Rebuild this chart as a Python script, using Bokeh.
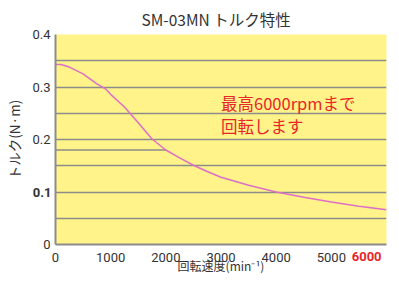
from bokeh.plotting import figure
from bokeh.models import Range1d, FixedTicker, Label, Title, LinearAxis
from bokeh.embed import file_html
from bokeh.resources import INLINE

# data
rpm = [0, 100, 250, 500, 750, 900, 1000, 1250, 1500, 1750, 2000, 2250, 2500,
       2750, 3000, 3500, 4000, 4500, 5000, 5500, 6000]
torque = [0.343, 0.343, 0.338, 0.325, 0.306, 0.297, 0.286, 0.262, 0.232, 0.201,
          0.180, 0.165, 0.151, 0.139, 0.128, 0.113, 0.100, 0.090, 0.081, 0.073, 0.066]
ref_x = [0, 2000]
ref_y = [0.18, 0.18]
x_ticks = [0, 1000, 2000, 3000, 4000, 5000]
x_tick_max = [6000]
y_ticks = [0, 0.2, 0.3, 0.4]
y_tick_bold = [0.1]
grid_ticks = [0.05, 0.1, 0.15, 0.2, 0.25, 0.3, 0.35, 0.4]
title_text = "SM-03MN トルク特性"
x_label = "回転速度(min⁻¹)"
y_label = "トルク(N·m)"
note_lines = ["最高6000rpmまで", "回転します"]

FONT = "Roboto"
JP = "Noto Sans CJK JP"
GRAY = "#8c8c8c"
TXT = "#333333"
RED = "#e8262a"

p = figure(width=391, height=276, output_backend="svg", toolbar_location=None,
           x_range=Range1d(0, 6000), y_range=Range1d(0, 0.4),
           x_axis_location=None, y_axis_location=None)
p.min_border_left = 0
p.min_border_right = 5
p.min_border_top = 27
p.min_border_bottom = 0
p.outline_line_color = None
p.background_fill_color = "#fff389"
p.border_fill_color = "white"

p.add_layout(Title(text=title_text, align="left", offset=86, text_font=JP,
                   text_font_size="15.5px", text_font_style="normal",
                   text_color=TXT), "above")


def style(ax):
    ax.major_tick_line_color = None
    ax.minor_tick_line_color = None
    ax.major_tick_out = 0
    ax.major_tick_in = 0
    ax.minor_tick_out = 0
    ax.minor_tick_in = 0
    ax.major_label_text_font = FONT
    ax.major_label_text_font_size = "13px"
    ax.major_label_text_color = TXT
    ax.axis_label_text_font = JP
    ax.axis_label_text_font_size = "12px"
    ax.axis_label_text_font_style = "normal"
    ax.axis_label_text_color = TXT


# x axes: normal labels, then the red bold max-speed label on the same row
xa = LinearAxis(ticker=FixedTicker(ticks=x_ticks))
style(xa)
xa.axis_line_color = GRAY
xa.axis_line_width = 2
xa.major_label_standoff = 8
p.add_layout(xa, "below")

xb = LinearAxis(ticker=FixedTicker(ticks=x_tick_max))
style(xb)
xb.axis_line_color = None
xb.major_label_text_color = RED
xb.major_label_text_font_style = "bold"
xb.major_label_standoff = -13
xb.axis_label = x_label
xb.axis_label_standoff = -7
p.add_layout(xb, "below")

# y axes
ya = LinearAxis(ticker=FixedTicker(ticks=y_ticks))
style(ya)
ya.axis_line_color = GRAY
ya.axis_line_width = 2
ya.major_label_standoff = 5
ya.major_label_overrides = {0: "0"}
p.add_layout(ya, "left")

yb = LinearAxis(ticker=FixedTicker(ticks=y_tick_bold))
style(yb)
yb.axis_line_color = None
yb.major_label_text_font_style = "bold"
yb.major_label_standoff = -22
yb.axis_label = y_label
yb.axis_label_text_font_size = "13.5px"
yb.axis_label_standoff = 6
p.add_layout(yb, "left")

p.xgrid.grid_line_color = None
p.ygrid.ticker = FixedTicker(ticks=grid_ticks)
p.ygrid.grid_line_color = GRAY
p.ygrid.grid_line_width = 1.5

p.line(ref_x, ref_y, line_color=GRAY, line_width=1.5)
p.line(rpm, torque, line_color="#dd6fc8", line_width=1.5)

for i, t in enumerate(note_lines):
    p.add_layout(Label(x=3000, y=0.27, text=t, text_font=JP, text_font_size="16.5px",
                       text_color=RED, text_baseline="middle",
                       y_offset=-23 * i))

open("out.html", "w").write(file_html(p, INLINE))
